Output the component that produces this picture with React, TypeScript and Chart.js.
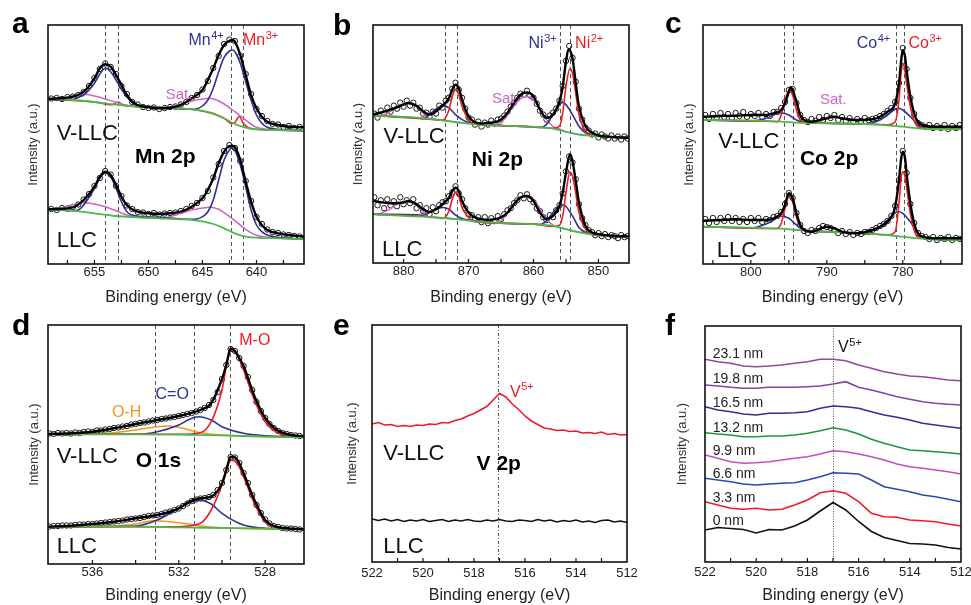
import React, { useEffect, useRef } from "react";
import { Chart, registerables } from "chart.js";

Chart.register(...registerables);

const FONT = 'Arial, "Liberation Sans", Helvetica, sans-serif';

type P = [number, number];

// ---------- colours ----------
const BLACK = "#000000";
const BLUE = "#2e3192";
const RED = "#ed1c24";
const PINK = "#cf62c6";
const GREEN = "#4cb848";
const ORANGE = "#f7941d";

// ================= a : Mn 2p =================
const mnE = [659, 658.5, 658, 657.5, 657, 656.5, 656, 655.5, 655, 654.5, 654, 653.5, 653, 652.5, 652, 651.5, 651, 650.5, 650, 649.5, 649, 648.5, 648, 647.5, 647, 646.5, 646, 645.5, 645, 644.5, 644, 643.5, 643, 642.5, 642, 641.5, 641, 640.5, 640, 639.5, 639, 638.5, 638, 637.5, 637, 636.5, 636];
const mnVllcData = [165.5, 166, 165, 167, 167.5, 169, 172, 178, 186, 195, 200.5, 197, 190, 178, 170, 162, 159.5, 157, 156, 156.5, 155, 156, 157, 157.5, 159.5, 162, 166, 169, 174.5, 183, 196, 208, 220, 224.5, 223, 208, 190, 170, 155, 148, 143, 140, 139.5, 137, 138, 136, 137];
const mnLlcData = [55, 54, 56, 55.5, 57, 59.5, 64.5, 70, 78, 86, 93, 89.5, 78, 68, 58.5, 55, 52, 51.5, 50, 51, 49.5, 50.5, 51, 51.5, 53, 55, 58, 61, 66, 73, 86.5, 100, 113, 119, 116, 103, 83, 63, 47, 40, 34.5, 32, 31, 29.5, 29, 28, 27.5];
const mnVllcFit: P[] = [[659.3, 165], [657, 167.3], [656, 172.3], [655, 185.7], [654.5, 195.7], [654, 199.7], [653.5, 197.3], [653, 189], [652.5, 179], [652, 169], [651.5, 162.3], [651, 159], [650, 156.7], [649, 155.7], [648, 156.3], [647, 159], [646, 165.7], [645, 174], [644.5, 184], [644, 195.7], [643.5, 209], [643, 219], [642.5, 223.3], [642.2, 224], [642, 222.3], [641.5, 209], [641, 189], [640.5, 169], [640, 155.7], [639.5, 147.3], [639, 142.3], [638, 139], [637, 137.3], [635.6, 136.7]];
const mnVllcMn4: P[] = [[659.3, 164.7], [657, 164], [656.5, 166.7], [656, 169], [655, 180.7], [654.5, 190], [654, 195.7], [653.5, 192.3], [653, 184], [652.5, 174.7], [652, 167.3], [651.5, 161.3], [651, 158], [650, 156.7], [648, 155.7], [646, 154.7], [645.5, 155.3], [645, 158], [644.5, 164], [644, 175.7], [643.5, 192.3], [643, 206.7], [642.5, 213], [642.2, 214], [642, 212.3], [641.5, 200.7], [641, 182.3], [640.5, 164], [640, 149], [639.5, 140.7], [639, 136.7], [638, 134.7], [635.6, 133.3]];
const mnVllcSat: P[] = [[659.3, 164.7], [658, 165.7], [657, 168], [656, 169.7], [655, 168], [654, 165], [653, 161.7], [652, 158.7], [651, 157.3], [649, 156.7], [648, 157.3], [647, 160], [646, 163], [645, 165], [644.3, 165.7], [643.5, 163], [643, 160], [642, 152.3], [641, 144], [640, 136.7], [639, 134.7], [638, 134], [635.6, 133.3]];
const mnVllcMn3: P[] = [[659.3, 164.7], [655, 162], [653.4, 159.2], [652.8, 162], [652.3, 158.6], [651, 157.3], [647, 155.7], [645, 153], [643, 145.7], [642.3, 140.5], [642, 141.5], [641.6, 147.5], [641.2, 140.5], [640.8, 136.5], [640, 134.7], [635.6, 133.3]];
const mnVllcBg: P[] = [[659.3, 164.7], [657, 164], [655, 162], [653, 159.3], [651, 157.3], [649, 156.7], [647, 155.7], [645.5, 154], [644, 150.7], [643, 145.7], [642, 140], [641, 136.3], [640, 134.7], [638, 134], [635.6, 133.3]];
const mnLlcFit: P[] = [[659.3, 54.7], [657, 56.7], [656, 64], [655, 77.3], [654.5, 87.3], [654, 92.3], [653.5, 89], [653, 79], [652.5, 67.3], [652, 59], [651.5, 54.7], [651, 52.3], [650, 50.7], [649, 50], [648, 50.7], [647, 52.3], [646, 57.3], [645, 65.7], [644.5, 74], [644, 85.7], [643.5, 100.7], [643, 112.3], [642.5, 118], [642.3, 118.3], [642, 116.7], [641.5, 104], [641, 82.3], [640.5, 62.3], [640, 47.3], [639.5, 39], [639, 34], [638, 30.7], [637, 29], [635.6, 27.3]];
const mnLlcMn4: P[] = [[659.3, 54.7], [657, 53.3], [656.5, 54], [656, 59], [655, 75.7], [654.5, 85.7], [654, 91.3], [653.5, 87.3], [653, 75.7], [652.5, 62.3], [652, 52.3], [651, 48], [649, 46.7], [647, 45], [646, 44.7], [645.5, 45], [645, 47.3], [644.5, 52.3], [644, 64], [643.5, 84], [643, 104], [642.5, 114], [642.3, 115.7], [642, 113.3], [641.5, 99], [641, 77.3], [640.5, 54], [640, 39], [639.5, 32.3], [639, 29], [638, 26.7], [635.6, 24.7]];
const mnLlcSat: P[] = [[659.3, 54.7], [658, 56.3], [657, 59.3], [656, 61.3], [655, 60], [654, 57.3], [653, 53.3], [652, 49], [651, 46.7], [649, 45.7], [648, 47.3], [647, 50.7], [646, 54], [645, 56], [644.3, 56.7], [643.5, 54.7], [643, 51.3], [642, 43.3], [641, 34.7], [640, 28.7], [639, 26.7], [635.6, 24.7]];
const mnLlcBg: P[] = [[659.3, 54.7], [657, 53.3], [655, 50.7], [653, 48], [651, 46.7], [649, 45.7], [647, 44.7], [645.5, 43.3], [644, 40], [643, 35.7], [642, 30.7], [641, 27.3], [640, 26.3], [638, 25.7], [635.6, 24.7]];
const mnLines = [654.0, 652.8, 642.35, 641.25];
const mnTicks = [640, 645, 650, 655];

// ================= b : Ni 2p =================
const niE = [884.5, 884, 883.5, 883, 882.5, 882, 881.5, 881, 880.5, 880, 879.5, 879, 878.5, 878, 877.5, 877, 876.5, 876, 875.5, 875, 874.5, 874, 873.5, 873, 872.5, 872, 871.5, 871, 870.5, 870, 869.5, 869, 868.5, 868, 867.5, 867, 866.5, 866, 865.5, 865, 864.5, 864, 863.5, 863, 862.5, 862, 861.5, 861, 860.5, 860, 859.5, 859, 858.5, 858, 857.5, 857, 856.5, 856, 855.5, 855, 854.5, 854, 853.5, 853, 852.5, 852, 851.5, 851, 850.5, 850, 849.5, 849, 848.5, 848, 847.5, 847, 846.5, 846, 845.5];
const niVllcData = [150, 146, 153, 150, 156, 152, 158, 155, 161, 157, 163, 158, 161, 155, 156, 150, 151, 147, 152, 150, 158, 156, 163, 166, 175, 181, 174, 166, 155, 146, 144, 139, 142, 137, 141, 139, 143, 140, 144, 145, 148, 152, 157, 161, 166, 170, 169, 173, 168, 166, 160, 153, 149, 144, 148, 151, 155, 163, 178, 203, 218, 206, 182, 155, 144, 136, 133, 129, 130, 126, 129, 127, 125, 128, 125, 127, 124, 127, 125];
const niLlcData = [66, 58, 63, 55, 64, 58, 62, 57, 66, 59, 63, 60, 64, 55, 58, 52, 55, 49, 56, 52, 58, 61, 62, 67, 71, 77, 70, 64, 55, 49, 48, 44, 46, 41, 46, 40, 45, 42, 47, 44, 49, 53, 55, 60, 63, 68, 65, 69, 64, 61, 55, 52, 46, 43, 48, 46, 53, 58, 70, 92, 107, 101, 84, 59, 45, 38, 33, 31, 28, 30, 27, 29, 26, 28, 27, 25, 28, 26, 27];
const niVllcFit: P[] = [[884.7, 149], [882, 154], [880, 159], [879.3, 160.7], [878, 158], [877, 152.3], [876, 149], [875, 152.3], [874, 158], [873, 165.7], [872.5, 174], [872, 179], [871.5, 175.7], [871, 164], [870, 147.3], [869, 141.3], [868, 140], [867, 140.7], [866, 141.3], [865, 144], [864, 150.7], [863, 160.7], [862, 169], [861, 171.3], [860, 167.3], [859, 154], [858, 145.7], [857, 149], [856, 162.3], [855.5, 177.3], [855, 202.3], [854.6, 214.7], [854, 205.7], [853.5, 180.7], [853, 157.3], [852, 137.3], [851, 130.7], [850, 128], [848, 126.7], [845.3, 125.7]];
const niVllcBg: P[] = [[884.7, 148], [880, 146.7], [875, 144], [872, 141.3], [868, 139], [865, 138], [860, 136.7], [857, 135], [855, 131.7], [853, 129], [850, 127.3], [845.3, 125.7]];
const niVllcNi3: P[] = [[884.7, 148], [878, 145.7], [877, 145], [876, 149], [875, 154.7], [874, 158], [873, 155.7], [872, 149], [871, 144], [870, 141.3], [865, 138], [860, 136.7], [859, 136], [858, 139], [857, 149], [856, 159], [855.6, 161.3], [855, 159], [854, 149], [853, 137.3], [852, 130.7], [851, 128.3], [850, 127.3], [845.3, 125.7]];
const niVllcNi2: P[] = [[884.7, 148], [875, 144], [874, 143.3], [873, 154], [872.5, 167.3], [872, 174], [871.5, 169], [871, 157.3], [870, 144], [869.5, 140], [865, 138], [860, 136.7], [857, 135.3], [856, 137.3], [855.5, 150.7], [855, 177.3], [854.4, 195], [854, 190.7], [853.5, 170.7], [853, 149], [852, 132.3], [851, 128.3], [850, 127.3], [845.3, 125.7]];
const niVllcSat: P[] = [[884.7, 148], [884, 148.3], [883, 149], [882, 152.3], [881, 157.3], [880, 160], [879.3, 161], [878, 157.3], [877, 150.7], [876, 145], [875, 144], [868, 139], [866, 138], [865, 140.7], [864, 149], [863, 158], [862, 164.7], [861, 167.3], [860, 164], [859, 154], [858, 144], [857, 137.3], [856, 134.7], [855, 131.7], [850, 127.3], [845.3, 125.7]];
const niLlcFit: P[] = [[884.7, 62.3], [882, 60], [880, 60.7], [879.3, 62.3], [878, 59], [877, 54], [876, 51.3], [875, 54], [874, 59], [873, 65.7], [872.5, 72.3], [872, 75.7], [871.5, 72.3], [871, 62.3], [870, 50.7], [869, 45.7], [868, 44], [867, 43.3], [866, 44], [865, 45.7], [864, 50.7], [863, 59], [862, 65.7], [861, 67.3], [860, 62.3], [859, 50.7], [858, 44], [857, 47.3], [856, 57.3], [855.5, 70.7], [855, 90.7], [854.4, 109], [854, 102.3], [853.5, 82.3], [853, 60.7], [852, 37.3], [851, 30.7], [850, 29], [848, 27.3], [845.3, 26.7]];
const niLlcBg: P[] = [[884.7, 49], [880, 47.3], [875, 45.7], [872, 44], [868, 41.3], [865, 40], [860, 39], [857, 37.3], [855, 34], [853, 30.7], [850, 28], [845.3, 26.3]];
const niLlcNi3: P[] = [[884.7, 49], [878, 48.3], [877, 48], [876, 50.7], [875, 54], [874, 55.7], [873, 54], [872, 48], [871, 44.7], [870, 43.3], [865, 40], [860, 39], [859, 38.7], [858, 42.3], [857, 50.7], [856, 57.3], [855.5, 58.3], [855, 56.7], [854, 47.3], [853, 35.7], [852, 30.7], [851, 28.7], [850, 28], [845.3, 26.3]];
const niLlcNi2: P[] = [[884.7, 49], [875, 45.7], [874, 44.7], [873, 52.3], [872.5, 64], [872, 71.3], [871.5, 67.3], [871, 55.7], [870, 45.7], [869.5, 42.3], [865, 40], [860, 39], [857, 36.7], [856, 38], [855.5, 47.3], [855, 70.7], [854.4, 91.3], [854, 87.3], [853.5, 70.7], [853, 50.7], [852, 34], [851, 29], [850, 28], [845.3, 26.3]];
const niLlcSat: P[] = [[884.7, 49], [884, 49], [883, 51.3], [882, 54.7], [881, 59], [880, 61.3], [879.3, 61.3], [878, 58], [877, 51.3], [876, 45.7], [875, 45.7], [868, 41.3], [866, 40], [865, 42.3], [864, 50.7], [863, 60], [862, 65.7], [861, 67.3], [860, 64], [859, 54], [858, 44], [857, 38], [856, 35.7], [855, 34], [850, 28], [845.3, 26.3]];
const niLines = [873.6, 871.8, 855.9, 854.4];
const niTicks = [850, 860, 870, 880];

// ================= c : Co 2p =================
const coE = [806, 805.5, 805, 804.5, 804, 803.5, 803, 802.5, 802, 801.5, 801, 800.5, 800, 799.5, 799, 798.5, 798, 797.5, 797, 796.5, 796, 795.5, 795, 794.5, 794, 793.5, 793, 792.5, 792, 791.5, 791, 790.5, 790, 789.5, 789, 788.5, 788, 787.5, 787, 786.5, 786, 785.5, 785, 784.5, 784, 783.5, 783, 782.5, 782, 781.5, 781, 780.5, 780, 779.5, 779, 778.5, 778, 777.5, 777, 776.5, 776, 775.5, 775, 774.5, 774, 773.5, 773, 772.5];
const coVllcData = [149, 145, 150, 146, 151, 147, 150, 146, 151, 148, 152, 147, 150, 148, 151, 147, 150, 148, 152, 152, 156, 162, 174, 175, 161, 149, 144, 142, 145, 143, 147, 144, 148, 146, 149, 144, 147, 143, 146, 142, 145, 143, 146, 144, 145, 146, 148, 150, 153, 156, 162, 181, 216, 195, 166, 150, 141, 139, 137, 139, 136, 138, 136, 139, 135, 138, 136, 139];
const coLlcData = [45, 41, 46, 42, 46, 43, 47, 43, 46, 42, 45, 42, 46, 43, 46, 42, 45, 44, 47, 48, 52, 60, 71, 66, 51, 39, 33, 31, 34, 33, 36, 38, 37, 36, 34, 31, 33, 30, 32, 29, 31, 30, 32, 32, 34, 36, 38, 40, 43, 48, 58, 84, 113, 91, 60, 41, 31, 28, 27, 25, 27, 24, 26, 25, 27, 24, 26, 25];
const coVllcFit: P[] = [[806.3, 147.3], [804, 148], [802, 148.3], [800, 149], [798, 149], [797, 150.7], [796, 154], [795.5, 160.7], [795, 172.3], [794.8, 176.7], [794.5, 174], [794, 162.3], [793.5, 149], [793, 144], [792, 142.3], [790, 145.7], [789, 147.3], [788, 145.7], [786, 144], [784, 144.7], [783, 147.3], [782, 152.3], [781, 160.7], [780.5, 180.7], [780.2, 204], [780, 214], [779.7, 207.3], [779.5, 194], [779, 167.3], [778.5, 150.7], [778, 142.3], [777, 138], [776, 137.3], [774, 137.3], [772.2, 137.3]];
const coVllcBg: P[] = [[806.3, 144], [800, 143.3], [796, 142.3], [794, 141.3], [790, 140.7], [785, 140], [782, 138.7], [780, 137.3], [778, 135.7], [776, 135], [772.2, 134.7]];
const coVllcCo4: P[] = [[806.3, 144], [800, 143], [798, 145.7], [797, 149], [796.2, 151.3], [795, 149], [794, 144], [793, 141.7], [790, 140.7], [785, 140], [784, 141.3], [783, 144], [782, 149], [781, 154.7], [780.5, 155.7], [780, 154], [779, 147.3], [778, 140], [777, 135.7], [776, 135], [772.2, 134.7]];
const coVllcCo3: P[] = [[806.3, 144], [797, 142.5], [796.5, 142.3], [796, 149], [795.5, 164], [795, 173.3], [794.7, 172.3], [794.3, 164], [794, 154], [793.5, 144], [793, 141.7], [790, 140.7], [785, 140], [782, 139.3], [781, 142.3], [780.5, 164], [780.2, 192.3], [780, 200.7], [779.8, 197.3], [779.5, 180.7], [779, 157.3], [778.5, 143.3], [778, 137.3], [777, 135.7], [772.2, 134.7]];
const coLlcFit: P[] = [[806.3, 43.3], [804, 44], [802, 44.7], [800, 44], [798, 44], [797, 45.7], [796, 50.7], [795.5, 59], [795, 70.7], [794.5, 65.7], [794, 50.7], [793.5, 39], [793, 34], [792, 32.3], [790, 37.3], [789, 35.7], [788, 32.3], [786, 30.7], [784, 34], [783, 37.3], [782, 42.3], [781, 57.3], [780.5, 84], [780.2, 105.7], [780, 112.3], [779.7, 105.7], [779.5, 90.7], [779, 60.7], [778.5, 40.7], [778, 30.7], [777, 26.7], [776, 25.7], [774, 25.7], [772.2, 25.7]];
const coLlcBg: P[] = [[806.3, 37.3], [800, 36.3], [796, 35.3], [794, 34], [790, 32.3], [785, 30.7], [782, 29], [780, 27.3], [778, 25.7], [776, 24.7], [772.2, 24]];
const coLlcCo4: P[] = [[806.3, 37.3], [800, 36], [798, 40], [797, 44], [796.2, 48], [795, 45.7], [794, 39], [793, 34], [790, 32.3], [785, 30.7], [784, 33.3], [783, 37.3], [782, 44], [781, 51.3], [780.5, 52.3], [780, 50.7], [779, 42.3], [778, 31.3], [777, 25.7], [776, 24.7], [772.2, 24]];
const coLlcCo3: P[] = [[806.3, 37.3], [797, 35.5], [796.5, 35.7], [796, 40.7], [795.5, 55.7], [795, 67.3], [794.7, 65.7], [794.3, 57.3], [794, 47.3], [793.5, 37.3], [793, 34], [790, 32.3], [785, 30.7], [782, 29], [781, 32.3], [780.5, 60.7], [780.2, 87.3], [780, 92.3], [779.8, 90.7], [779.5, 77.3], [779, 50.7], [778.5, 34], [778, 26.7], [777, 25.7], [772.2, 24]];
const coLines = [795.6, 794.5, 780.9, 779.9];
const coTicks = [780, 790, 800];

// ================= d : O 1s =================
const oE = [538, 537.8, 537.6, 537.4, 537.2, 537, 536.8, 536.6, 536.4, 536.2, 536, 535.8, 535.6, 535.4, 535.2, 535, 534.8, 534.6, 534.4, 534.2, 534, 533.8, 533.6, 533.4, 533.2, 533, 532.8, 532.6, 532.4, 532.2, 532, 531.8, 531.6, 531.4, 531.2, 531, 530.8, 530.6, 530.4, 530.2, 530, 529.8, 529.6, 529.4, 529.2, 529, 528.8, 528.6, 528.4, 528.2, 528, 527.8, 527.6, 527.4, 527.2, 527, 526.8, 526.6, 526.4];
const oVllcData = [130.5, 130, 131, 130.5, 131, 130.5, 131.5, 131, 132, 132.5, 132, 133.5, 133.5, 134.5, 135, 136, 136.5, 137.5, 138, 139.5, 140, 141, 141.5, 142.5, 143.5, 144, 145, 145.5, 146.5, 147, 148, 149, 150, 151, 152.5, 154, 156, 159, 164, 172, 185, 199, 215, 213, 206, 198, 187, 174, 162, 153, 146, 140, 136, 133, 131, 130, 129, 128.5, 128];
const oLlcData = [37.5, 38, 38, 38.5, 38.5, 38.5, 39, 39.5, 39.5, 40, 40, 40.5, 41, 41.5, 42, 42.5, 43, 43.5, 44.5, 45, 45.5, 46, 47, 48, 48.5, 49, 50, 51.5, 52.5, 54, 55.5, 58, 60.5, 63, 64.5, 65.5, 66, 67, 69, 74, 81, 94, 107, 106.5, 101, 91, 81, 69, 59, 51, 44.5, 40.5, 38, 37, 36, 35.5, 35.5, 35, 34.5];
const oVllcFit: P[] = [[538.06, 130], [537, 130.7], [536, 132.3], [535, 135.7], [534, 140], [533, 144], [532, 148], [531.5, 150.7], [531, 154], [530.5, 160.7], [530, 185], [529.8, 199], [529.6, 215.5], [529.4, 213], [529.2, 206], [529, 198], [528.5, 168], [528, 146], [527.5, 134.5], [527, 130], [526.2, 127.5]];
const oVllcBg: P[] = [[538.06, 129.7], [536, 129.7], [534, 129.7], [532, 129.3], [530, 128.7], [528, 127.3], [526.2, 126.7]];
const oVllcOH: P[] = [[538.06, 129.7], [536, 130], [535, 131.3], [534, 134], [533, 137.3], [532.5, 138], [532, 136.7], [531, 131.3], [530, 129], [528, 127.3], [526.2, 126.7]];
const oVllcCO: P[] = [[538.06, 129.7], [534, 129.7], [533, 132.3], [532, 139], [531.5, 144.7], [531.1, 147.3], [530.5, 144], [530, 137.3], [529, 130.7], [528, 128.2], [526.2, 126.7]];
const oVllcMO: P[] = [[538.06, 129.7], [532, 129.7], [531, 131.3], [530.5, 142.3], [530, 174], [529.8, 197.3], [529.6, 214], [529.3, 209], [529, 194], [528.5, 164], [528, 142.3], [527.5, 132.3], [527, 129], [526.2, 127.3]];
const oLlcFit: P[] = [[538.06, 37.3], [537, 38.3], [536, 40], [535, 42.3], [534, 45.7], [533, 49], [532, 55.7], [531.5, 62.3], [531, 65.7], [530.5, 67.3], [530, 80.7], [529.8, 94], [529.6, 107.3], [529.4, 106.7], [529.2, 100.7], [529, 90.7], [528.5, 64], [528, 44], [527.5, 37.3], [527, 35.7], [526.2, 34.7]];
const oLlcBg: P[] = [[538.06, 37.3], [534, 37.3], [532, 36.7], [530, 36], [528, 35.3], [526.2, 34.7]];
const oLlcOH: P[] = [[538.06, 37.3], [535, 38], [534, 40], [533.2, 43.3], [532, 41.3], [531, 38], [530, 36.3], [526.2, 34.7]];
const oLlcCO: P[] = [[538.06, 37.3], [534, 38], [533, 44], [532, 55.7], [531.5, 61.3], [531.1, 64], [530.5, 60], [530, 50.7], [529, 39], [528, 35.7], [526.2, 34.7]];
const oLlcMO: P[] = [[538.06, 37.3], [532, 37.3], [531, 40.7], [530.5, 54], [530, 79], [529.8, 92.3], [529.6, 104], [529.3, 100.7], [529, 87.3], [528.5, 60.7], [528, 42.3], [527.5, 36.3], [527, 35], [526.2, 34.7]];
const oLines = [533.1, 531.3, 529.65];
const oTicks = [528, 532, 536];

// ================= e : V 2p =================
const vE = [522, 521.75, 521.5, 521.25, 521, 520.75, 520.5, 520.25, 520, 519.75, 519.5, 519.25, 519, 518.75, 518.5, 518.25, 518, 517.75, 517.5, 517.25, 517, 516.75, 516.5, 516.25, 516, 515.75, 515.5, 515.25, 515, 514.75, 514.5, 514.25, 514, 513.75, 513.5, 513.25, 513, 512.75, 512.5, 512.25, 512];
const vVllc = [138, 139.5, 137, 137.5, 135.5, 136.5, 135.5, 137, 136.5, 138, 137.5, 139.5, 139, 141.5, 143, 146, 148.5, 152, 155.5, 162, 168.5, 165, 158, 152.5, 146, 141, 137.5, 134, 133, 131.5, 132, 130.5, 131, 129, 129.5, 128.5, 130, 127.5, 128.5, 127, 127.5];
const vLlc = [43, 41.5, 43, 41, 42.5, 40.5, 42, 41, 42.5, 40.5, 41.5, 42.5, 40.5, 42, 41, 42.5, 41, 40.5, 42, 41, 42.5, 41, 40.5, 42, 41.5, 40.5, 42.5, 41, 42, 40, 41.5, 40.5, 42, 40, 41, 39.5, 41.5, 42, 40, 41, 39.5];
const vLines = [517.05];
const vTicks = [512, 514, 516, 518, 520, 522];

// ================= f : depth profile =================
const depthE = [522, 521.5, 521, 520.5, 520, 519.5, 519, 518.5, 518, 517.5, 517, 516.5, 516, 515.5, 515, 514.5, 514, 513.5, 513, 512.5, 512];
const depthNames = ["0 nm", "3.3 nm", "6.6 nm", "9.9 nm", "13.2 nm", "16.5 nm", "19.8 nm", "23.1 nm"];
const depth0 = [32, 34.5, 33.5, 32.5, 29, 32.5, 32, 36, 42, 51, 59.5, 52, 40.5, 30.5, 24.5, 21.5, 18.5, 18, 17, 14.5, 13];
const depth33 = [60.3, 57, 53.7, 52.7, 53.7, 52, 52.7, 57, 62, 69.3, 71.3, 68.7, 60.3, 48.7, 45.3, 44.7, 42, 41.3, 40.3, 38, 36];
const depth66 = [83.7, 82, 80.3, 78, 77, 78, 78.7, 79.3, 82, 85.3, 89.3, 88.7, 88, 82, 75.3, 72.7, 70.3, 67, 65.3, 62.7, 60.3];
const depth99 = [107, 103.7, 100.3, 98.7, 99.3, 100.3, 102, 103.7, 105.3, 108, 111.3, 110.3, 108, 105.3, 102, 98, 95.3, 93.7, 92, 90.3, 88];
const depth132 = [129.3, 128, 127, 125.3, 125.3, 126, 126, 127, 128.7, 131.3, 134.3, 132, 128, 122.7, 118.7, 115.3, 112, 111.3, 110.3, 109.3, 108];
const depth165 = [155.3, 152, 150.3, 148, 147, 148.7, 148.7, 149.3, 150.3, 153.7, 156, 155.3, 153.7, 150.3, 147, 144.7, 142, 138.7, 137, 135.3, 133.7];
const depth198 = [177, 176, 174.7, 173.7, 173.7, 174.7, 174.7, 174.7, 175.3, 176, 178, 180.3, 174.7, 172, 168.7, 165.3, 162.7, 160.3, 158.7, 157.7, 157];
const depth231 = [202.7, 200.3, 198.7, 196, 195.3, 196, 197, 198.7, 200.3, 202.7, 202.7, 201.3, 197, 193.7, 190.3, 188, 186, 185.3, 183.7, 182, 181.3];
const depthColors = ["#111111", "#ed1c24", "#2e47b0", "#c04fc0", "#1a9641", "#2e3192", "#7b45a8", "#94459f"];
const depthLabelY = [37, 60, 84, 107, 130, 155, 179, 204];

// ---------- helpers ----------
type Kind = "fit" | "circle" | "jag";
type Series = { pts: P[]; color: string; width: number; kind: Kind; order: number };
type Label = { text: string; sup?: string; x: number; y: number; color: string; size: number; bold?: boolean };
type Panel = {
  letter: string; lx: number; ly: number;
  x: number; y: number; w: number; h: number;
  area: { left: number; top: number; right: number; bottom: number };
  xMin: number; xMax: number; yMax: number;
  ticks: number[]; minor: number; tickPad: number; xTitlePad: number; yTitlePad: number;
  vlines: number[]; vDash: number[];
  series: Series[]; labels: Label[];
};

const zip = (xs: number[], ys: number[]): P[] => xs.map((x, i) => [x, ys[i]] as P);
const fit = (pts: P[], color: string, width: number, order: number): Series => ({ pts, color, width, kind: "fit", order });
const dots = (pts: P[]): Series => ({ pts, color: "#1a1a1a", width: 1, kind: "circle", order: 10 });
const jag = (pts: P[], color: string): Series => ({ pts, color, width: 1.6, kind: "jag", order: 1 });

const xps = (vllc: Series[], llc: Series[]) => [...vllc, ...llc];

// draw order: fit (0) on top, then background (1), then components
const panels: Panel[] = [
  {
    letter: "a", lx: 12, ly: 33, x: 0, y: 0, w: 322, h: 310,
    area: { left: 48, top: 25, right: 304, bottom: 264 },
    xMin: 635.6, xMax: 659.3, yMax: 239, ticks: mnTicks, minor: 2.5, tickPad: 1, xTitlePad: 3, yTitlePad: 26,
    vlines: mnLines, vDash: [4, 3],
    series: xps(
      [dots(zip(mnE, mnVllcData)), fit(mnVllcBg, GREEN, 1.8, 1), fit(mnVllcMn3, RED, 1.5, 5), fit(mnVllcSat, PINK, 1.5, 4), fit(mnVllcMn4, BLUE, 1.6, 3), fit(mnVllcFit, BLACK, 2.4, 0)],
      [dots(zip(mnE, mnLlcData)), fit(mnLlcBg, GREEN, 1.8, 1), fit(mnLlcSat, PINK, 1.5, 4), fit(mnLlcMn4, BLUE, 1.6, 3), fit(mnLlcFit, BLACK, 2.4, 0)]
    ),
    labels: [
      { text: "Mn", sup: "4+", x: 646.3, y: 219, color: BLUE, size: 16 },
      { text: "Mn", sup: "3+", x: 641.25, y: 219, color: RED, size: 16 },
      { text: "Sat.", x: 648.4, y: 165, color: PINK, size: 15 },
      { text: "V-LLC", x: 658.5, y: 124, color: "#111", size: 22 },
      { text: "Mn 2p", x: 651.25, y: 101, color: "#000", size: 21, bold: true },
      { text: "LLC", x: 658.5, y: 17, color: "#111", size: 22 },
    ],
  },
  {
    letter: "b", lx: 11, ly: 35, x: 322, y: 0, w: 328, h: 310,
    area: { left: 51, top: 25, right: 307, bottom: 263 },
    xMin: 845.3, xMax: 884.7, yMax: 239, ticks: niTicks, minor: 5, tickPad: 1, xTitlePad: 3, yTitlePad: 29,
    vlines: niLines, vDash: [4, 3],
    series: xps(
      [dots(zip(niE, niVllcData)), fit(niVllcBg, GREEN, 1.8, 1), fit(niVllcSat, PINK, 1.5, 5), fit(niVllcNi3, BLUE, 1.6, 4), fit(niVllcNi2, RED, 1.6, 3), fit(niVllcFit, BLACK, 2.4, 0)],
      [dots(zip(niE, niLlcData)), fit(niLlcBg, GREEN, 1.8, 1), fit(niLlcSat, PINK, 1.5, 5), fit(niLlcNi3, BLUE, 1.6, 4), fit(niLlcNi2, RED, 1.6, 3), fit(niLlcFit, BLACK, 2.4, 0)]
    ),
    labels: [
      { text: "Ni", sup: "3+", x: 860.76, y: 215.7, color: BLUE, size: 16 },
      { text: "Ni", sup: "2+", x: 853.6, y: 215.7, color: RED, size: 16 },
      { text: "Sat.", x: 866.4, y: 161, color: PINK, size: 15 },
      { text: "V-LLC", x: 883.07, y: 120.7, color: "#111", size: 22 },
      { text: "Ni 2p", x: 869.5, y: 97.3, color: "#000", size: 21, bold: true },
      { text: "LLC", x: 883.3, y: 7.3, color: "#111", size: 22 },
    ],
  },
  {
    letter: "c", lx: 15, ly: 33, x: 650, y: 0, w: 321, h: 310,
    area: { left: 53, top: 25, right: 312, bottom: 264 },
    xMin: 772.2, xMax: 806.3, yMax: 239, ticks: coTicks, minor: 5, tickPad: 1, xTitlePad: 3, yTitlePad: 32,
    vlines: coLines, vDash: [4, 3],
    series: xps(
      [dots(zip(coE, coVllcData)), fit(coVllcBg, GREEN, 1.8, 1), fit(coVllcCo4, BLUE, 1.6, 4), fit(coVllcCo3, RED, 1.6, 3), fit(coVllcFit, BLACK, 2.4, 0)],
      [dots(zip(coE, coLlcData)), fit(coLlcBg, GREEN, 1.8, 1), fit(coLlcCo4, BLUE, 1.6, 4), fit(coLlcCo3, RED, 1.6, 3), fit(coLlcFit, BLACK, 2.4, 0)]
    ),
    labels: [
      { text: "Co", sup: "4+", x: 786.06, y: 215.7, color: BLUE, size: 16 },
      { text: "Co", sup: "3+", x: 779.25, y: 215.7, color: RED, size: 16 },
      { text: "Sat.", x: 790.9, y: 160, color: PINK, size: 15 },
      { text: "V-LLC", x: 804.3, y: 115.7, color: "#111", size: 22 },
      { text: "Co 2p", x: 793.54, y: 99, color: "#000", size: 21, bold: true },
      { text: "LLC", x: 804.5, y: 7.3, color: "#111", size: 22 },
    ],
  },
  {
    letter: "d", lx: 12, ly: 30, x: 0, y: 305, w: 322, h: 300,
    area: { left: 48, top: 20, right: 304, bottom: 259 },
    xMin: 526.2, xMax: 538.06, yMax: 239, ticks: oTicks, minor: 2, tickPad: 1, xTitlePad: 0, yTitlePad: 27,
    vlines: oLines, vDash: [4, 3],
    series: xps(
      [dots(zip(oE, oVllcData)), fit(oVllcBg, GREEN, 1.8, 1), fit(oVllcOH, ORANGE, 1.5, 5), fit(oVllcCO, BLUE, 1.6, 4), fit(oVllcMO, RED, 1.6, 3), fit(oVllcFit, BLACK, 2.4, 0)],
      [dots(zip(oE, oLlcData)), fit(oLlcBg, GREEN, 1.8, 1), fit(oLlcOH, ORANGE, 1.5, 5), fit(oLlcCO, BLUE, 1.6, 4), fit(oLlcMO, RED, 1.6, 3), fit(oLlcFit, BLACK, 2.4, 0)]
    ),
    labels: [
      { text: "M-O", x: 529.2, y: 219, color: RED, size: 16 },
      { text: "C=O", x: 533.08, y: 164.7, color: BLUE, size: 16 },
      { text: "O-H", x: 535.1, y: 146.7, color: ORANGE, size: 16 },
      { text: "V-LLC", x: 537.66, y: 100.7, color: "#111", size: 22 },
      { text: "O 1s", x: 534.0, y: 96.7, color: "#000", size: 21, bold: true },
      { text: "LLC", x: 537.66, y: 10.7, color: "#111", size: 22 },
    ],
  },
  {
    letter: "e", lx: 11, ly: 30, x: 322, y: 305, w: 328, h: 300,
    area: { left: 50, top: 20, right: 305, bottom: 257 },
    xMin: 512, xMax: 522, yMax: 237, ticks: vTicks, minor: 1, tickPad: 4, xTitlePad: 0, yTitlePad: 23,
    vlines: vLines, vDash: [3, 2, 1, 2],
    series: [jag(zip(vE, vVllc), RED), jag(zip(vE, vLlc), "#111111")],
    labels: [
      { text: "V", sup: "5+", x: 516.59, y: 165.3, color: RED, size: 16 },
      { text: "V-LLC", x: 521.56, y: 102, color: "#111", size: 22 },
      { text: "V 2p", x: 517.9, y: 92, color: "#000", size: 21, bold: true },
      { text: "LLC", x: 521.56, y: 8.7, color: "#111", size: 22 },
    ],
  },
  {
    letter: "f", lx: 15, ly: 30, x: 650, y: 305, w: 321, h: 300,
    area: { left: 55, top: 21, right: 311, bottom: 257 },
    xMin: 512, xMax: 522, yMax: 236, ticks: vTicks, minor: 1, tickPad: 3, xTitlePad: 0, yTitlePad: 25,
    vlines: [517.0], vDash: [1, 1.5],
    series: [depth0, depth33, depth66, depth99, depth132, depth165, depth198, depth231].map((d, i) => jag(zip(depthE, d), depthColors[i])),
    labels: [
      { text: "V", sup: "5+", x: 516.8, y: 210, color: "#111", size: 16 },
      ...depthNames.map((n, i) => ({ text: n, x: 521.7, y: depthLabelY[i], color: "#222", size: 14 })),
    ],
  },
];

function drawLabel(ctx: CanvasRenderingContext2D, chart: any, L: Label) {
  const x = chart.scales.x.getPixelForValue(L.x);
  const y = chart.scales.y.getPixelForValue(L.y);
  ctx.fillStyle = L.color;
  ctx.textAlign = "left";
  ctx.textBaseline = "alphabetic";
  ctx.font = `${L.bold ? "bold " : ""}${L.size}px ${FONT}`;
  ctx.fillText(L.text, x, y);
  if (L.sup) {
    const w = ctx.measureText(L.text).width;
    const s = Math.round(L.size * 0.68);
    ctx.font = `${s}px ${FONT}`;
    ctx.fillText(L.sup, x + w + 0.5, y - L.size * 0.4);
  }
}

function makeDecor(p: Panel) {
  return {
    id: "decor_" + p.letter,
    beforeDatasetsDraw(chart: any) {
      const { ctx, chartArea: a } = chart;
      const xs = chart.scales.x;
      ctx.save();
      ctx.strokeStyle = "#555";
      ctx.lineWidth = 1;
      ctx.setLineDash(p.vDash);
      for (const v of p.vlines) {
        const px = Math.round(xs.getPixelForValue(v)) + 0.5;
        ctx.beginPath();
        ctx.moveTo(px, a.top);
        ctx.lineTo(px, a.bottom);
        ctx.stroke();
      }
      ctx.restore();
    },
    afterDraw(chart: any) {
      const { ctx, chartArea: a } = chart;
      const xs = chart.scales.x;
      ctx.save();
      ctx.strokeStyle = "#111";
      ctx.lineWidth = 1.2;
      const start = Math.ceil(p.xMin / p.minor - 1e-9);
      const end = Math.floor(p.xMax / p.minor + 1e-9);
      for (let k = start; k <= end; k++) {
        const px = xs.getPixelForValue(k * p.minor);
        if (px <= a.left + 1.5 || px >= a.right - 1.5) continue;
        ctx.beginPath();
        ctx.moveTo(px, a.bottom);
        ctx.lineTo(px, a.bottom - 4);
        ctx.stroke();
      }
      ctx.lineWidth = 1.6;
      ctx.strokeRect(a.left, a.top, a.right - a.left, a.bottom - a.top);
      for (const L of p.labels) drawLabel(ctx, chart, L);
      ctx.fillStyle = "#000";
      ctx.font = `bold 30px ${FONT}`;
      ctx.textAlign = "left";
      ctx.textBaseline = "alphabetic";
      ctx.fillText(p.letter, p.lx, p.ly);
      ctx.restore();
    },
  };
}

function PanelChart({ p }: { p: Panel }) {
  const ref = useRef<HTMLCanvasElement>(null);
  useEffect(() => {
    if (!ref.current) return;
    const chart = new Chart(ref.current, {
      type: "line",
      data: {
        datasets: p.series.map((s) => ({
          data: s.pts.map(([x, y]) => ({ x, y })),
          borderColor: s.color,
          backgroundColor: "rgba(0,0,0,0)",
          borderWidth: s.width,
          showLine: s.kind !== "circle",
          pointRadius: s.kind === "circle" ? 2.7 : 0,
          pointBorderWidth: 1,
          pointBorderColor: s.color,
          pointBackgroundColor: "rgba(255,255,255,0)",
          cubicInterpolationMode: s.kind === "fit" ? "monotone" : "default",
          tension: 0,
          fill: false,
          order: s.order,
        })) as any,
      },
      options: {
        responsive: false,
        animation: false,
        events: [],
        layout: { padding: { left: 0, top: p.area.top, right: p.w - p.area.right, bottom: 0 } },
        plugins: { legend: { display: false }, tooltip: { enabled: false } },
        scales: {
          x: {
            type: "linear",
            reverse: true,
            min: p.xMin,
            max: p.xMax,
            afterBuildTicks: (s: any) => { s.ticks = p.ticks.map((v) => ({ value: v })); },
            afterFit: (s: any) => { s.height = p.h - p.area.bottom; s.paddingLeft = 0; s.paddingRight = 0; },
            grid: { display: false, drawTicks: false },
            border: { display: false },
            ticks: { autoSkip: false, maxRotation: 0, padding: p.tickPad, color: "#222", font: { size: 13, family: FONT } },
            title: { display: true, text: "Binding energy (eV)", color: "#222", font: { size: 16, family: FONT }, padding: { top: 0, bottom: p.xTitlePad } },
          },
          y: {
            type: "linear",
            min: 0,
            max: p.yMax,
            afterFit: (s: any) => { s.width = p.area.left; },
            ticks: { display: false },
            grid: { display: false, drawTicks: false },
            border: { display: false },
            title: { display: true, text: "Intensity (a.u.)", color: "#333", font: { size: 13, family: FONT }, padding: { top: p.yTitlePad, bottom: 0 } },
          },
        },
      } as any,
      plugins: [makeDecor(p)],
    });
    return () => chart.destroy();
  }, [p]);
  return (
    <canvas
      ref={ref}
      width={p.w}
      height={p.h}
      style={{ position: "absolute", left: p.x, top: p.y, width: p.w, height: p.h }}
    />
  );
}

export default function App() {
  return (
    <div style={{ position: "absolute", left: 0, top: 0, width: 971, height: 605, background: "#ffffff", overflow: "hidden" }}>
      {panels.map((p) => (
        <PanelChart key={p.letter} p={p} />
      ))}
    </div>
  );
}
